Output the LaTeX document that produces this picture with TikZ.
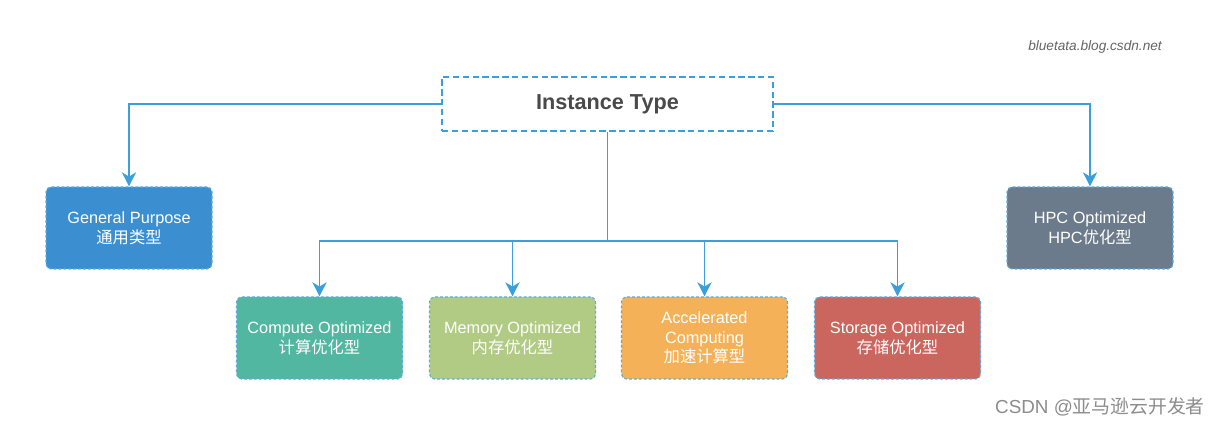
\documentclass[tikz,border=0pt]{standalone}
\usepackage{fontspec}
\setmainfont{Liberation Sans}
\newfontfamily\cjk{Noto Sans CJK SC}
\usetikzlibrary{arrows.meta}
\definecolor{linkblue}{HTML}{3A9FDA}
\definecolor{edgeblue}{HTML}{5AAEDF}
\definecolor{titlegray}{HTML}{4A4A4A}
\definecolor{gpblue}{HTML}{3B8FD1}
\definecolor{hpcgray}{HTML}{6C7B8B}
\definecolor{coteal}{HTML}{52B7A0}
\definecolor{megreen}{HTML}{B1CB85}
\definecolor{acorange}{HTML}{F4B157}
\definecolor{stred}{HTML}{CB665E}
\tikzset{
  typebox/.style={rectangle, rounded corners=3.5pt, minimum width=4.15cm, minimum height=2.05cm,
    draw=edgeblue, line width=0.8pt, dash pattern=on 2pt off 1.5pt,
    text=white, align=center, font=\fontsize{11.6}{14}\selectfont},
  link/.style={draw=linkblue, line width=1.3pt, -{Stealth[length=10pt,width=10pt,inset=3pt]}},
}
\begin{document}
\begin{tikzpicture}
\useasboundingbox [fill=white] (0,0) rectangle (30.525,10.65);
% root
\node [draw=linkblue, line width=1.4pt, dash pattern=on 4.5pt off 2.5pt, fill=white,
  minimum width=8.275cm, minimum height=1.35cm, text=titlegray,
  font=\bfseries\fontsize{15.4}{18}\selectfont] (it) at (15.1875,8.05) {Instance Type};
% families
\node [typebox, fill=gpblue] (gp) at (3.225,4.95) {General Purpose\\{\cjk 通用类型}};
\node [typebox, fill=hpcgray] (hpc) at (27.25,4.95) {HPC Optimized\\HPC{\cjk 优化型}};
\node [typebox, fill=coteal] (co) at (7.9875,2.2) {Compute Optimized\\{\cjk 计算优化型}};
\node [typebox, fill=megreen] (me) at (12.8125,2.2) {Memory Optimized\\{\cjk 内存优化型}};
\node [typebox, fill=acorange] (ac) at (17.6125,2.2) {Accelerated\\Computing\\{\cjk 加速计算型}};
\node [typebox, fill=stred] (st) at (22.4375,2.2) {Storage Optimized\\{\cjk 存储优化型}};
% connectors
\coordinate (bus) at (15.1875,4.625);
\draw [link] (it.west) -| (gp.north);
\draw [link] (it.east) -| (hpc.north);
\draw [draw=linkblue, line width=1.3pt] (it.south) -- (bus);
\draw [link] (bus) -| (co.north);
\draw [link] (bus) -| (me.north);
\draw [link] (bus) -| (ac.north);
\draw [link] (bus) -| (st.north);
% watermarks
\node [text=titlegray!85, font=\itshape\fontsize{9.7}{12}\selectfont] (url) at (27.375,9.475) {bluetata.blog.csdn.net};
\node [text=black!45, font=\fontsize{13.4}{16}\selectfont] (csdn) at (27.5,0.475) {CSDN @{\cjk 亚马逊云开发者}};
\end{tikzpicture}
\end{document}
